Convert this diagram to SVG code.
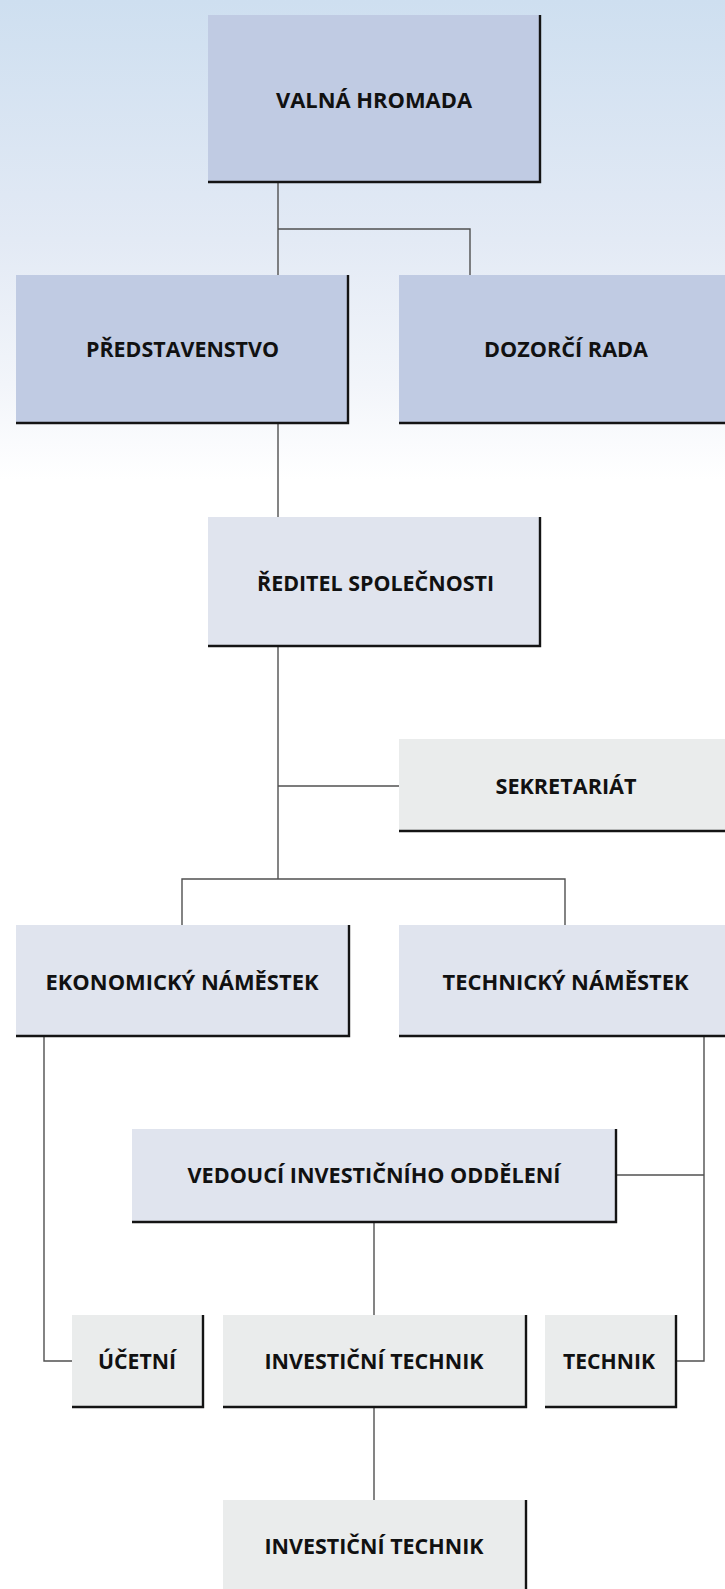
<svg xmlns="http://www.w3.org/2000/svg" width="725" height="1589" viewBox="0 0 725 1589">
<defs>
<linearGradient id="bg" gradientUnits="userSpaceOnUse" x1="0" y1="0" x2="0" y2="480">
<stop offset="0" stop-color="#cedff0"/>
<stop offset="0.5" stop-color="#e3eaf5"/>
<stop offset="0.8" stop-color="#f2f5fa"/>
<stop offset="1" stop-color="#ffffff"/>
</linearGradient>
<style>
.b1{fill:#c0cbe3}
.b2{fill:#e0e4ee}
.b3{fill:#eaecec}
.edge{fill:none;stroke:#141414;stroke-width:2.4}
.conn{fill:none;stroke:#505050;stroke-width:1.4}
text{font-family:"Open Sans","Noto Sans","DejaVu Sans",sans-serif;font-weight:700;font-size:21px;fill:#111;text-anchor:middle}
</style>
</defs>
<rect x="0" y="0" width="725" height="1589" fill="#ffffff"/>
<rect x="0" y="0" width="725" height="480" fill="url(#bg)"/>
<g id="connectors">
<path class="conn" d="M278 182 V275"/>
<path class="conn" d="M278 229 H470 V275"/>
<path class="conn" d="M278 423 V517"/>
<path class="conn" d="M278 646 V879"/>
<path class="conn" d="M278 786 H399"/>
<path class="conn" d="M182 925 V879 H565 V925"/>
<path class="conn" d="M44 1036 V1361 H72"/>
<path class="conn" d="M704 1036 V1361 H676"/>
<path class="conn" d="M616 1175 H704"/>
<path class="conn" d="M374 1222 V1315"/>
<path class="conn" d="M374 1407 V1500"/>
</g>
<g id="valna-hromada">
<rect class="b1" x="208" y="15" width="332" height="167"/>
<path class="edge" d="M540 15 V182 H208"/>
<text x="374" y="107.5" textLength="196" lengthAdjust="spacingAndGlyphs">VALNÁ HROMADA</text>
</g>
<g id="predstavenstvo">
<rect class="b1" x="16" y="275" width="332" height="148"/>
<path class="edge" d="M348 275 V423 H16"/>
<text x="182.5" y="357" textLength="193" lengthAdjust="spacingAndGlyphs">PŘEDSTAVENSTVO</text>
</g>
<g id="dozorci-rada">
<rect class="b1" x="399" y="275" width="336" height="148"/>
<path class="edge" d="M740 275 V423 H399"/>
<text x="566" y="357" textLength="164" lengthAdjust="spacingAndGlyphs">DOZORČÍ RADA</text>
</g>
<g id="reditel">
<rect class="b2" x="208" y="517" width="332" height="129"/>
<path class="edge" d="M540 517 V646 H208"/>
<text x="375.5" y="590.5" textLength="237" lengthAdjust="spacingAndGlyphs">ŘEDITEL SPOLEČNOSTI</text>
</g>
<g id="sekretariat">
<rect class="b3" x="399" y="739" width="336" height="92"/>
<path class="edge" d="M740 739 V831 H399"/>
<text x="566" y="794" textLength="141" lengthAdjust="spacingAndGlyphs">SEKRETARIÁT</text>
</g>
<g id="ekonomicky-namestek">
<rect class="b2" x="16" y="925" width="333" height="111"/>
<path class="edge" d="M349 925 V1036 H16"/>
<text x="182" y="989.5" textLength="273" lengthAdjust="spacingAndGlyphs">EKONOMICKÝ NÁMĚSTEK</text>
</g>
<g id="technicky-namestek">
<rect class="b2" x="399" y="925" width="336" height="111"/>
<path class="edge" d="M740 925 V1036 H399"/>
<text x="565.5" y="989.5" textLength="246" lengthAdjust="spacingAndGlyphs">TECHNICKÝ NÁMĚSTEK</text>
</g>
<g id="vedouci">
<rect class="b2" x="132" y="1129" width="484" height="93"/>
<path class="edge" d="M616 1129 V1222 H132"/>
<text x="374" y="1182.5" textLength="373" lengthAdjust="spacingAndGlyphs">VEDOUCÍ INVESTIČNÍHO ODDĚLENÍ</text>
</g>
<g id="ucetni">
<rect class="b3" x="72" y="1315" width="131" height="92"/>
<path class="edge" d="M203 1315 V1407 H72"/>
<text x="137" y="1368.5" textLength="78" lengthAdjust="spacingAndGlyphs">ÚČETNÍ</text>
</g>
<g id="investicni-technik-1">
<rect class="b3" x="223" y="1315" width="303" height="92"/>
<path class="edge" d="M526 1315 V1407 H223"/>
<text x="374" y="1368.5" textLength="219" lengthAdjust="spacingAndGlyphs">INVESTIČNÍ TECHNIK</text>
</g>
<g id="technik">
<rect class="b3" x="545" y="1315" width="131" height="92"/>
<path class="edge" d="M676 1315 V1407 H545"/>
<text x="609" y="1368.5" textLength="92" lengthAdjust="spacingAndGlyphs">TECHNIK</text>
</g>
<g id="investicni-technik-2">
<rect class="b3" x="223" y="1500" width="303" height="100"/>
<path class="edge" d="M526 1500 V1600"/>
<text x="374" y="1554" textLength="219" lengthAdjust="spacingAndGlyphs">INVESTIČNÍ TECHNIK</text>
</g>
</svg>
